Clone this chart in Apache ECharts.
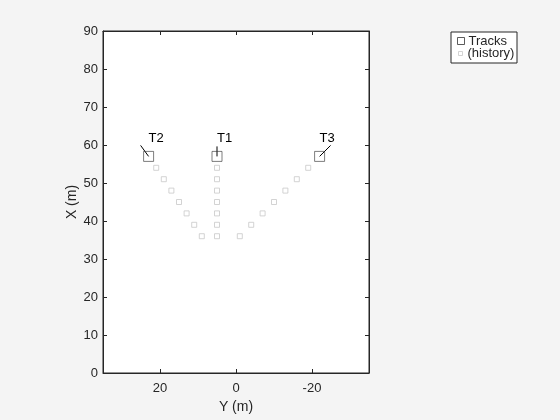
<!DOCTYPE html>
<html>
<head>
<meta charset="utf-8">
<script src="https://cdn.jsdelivr.net/npm/echarts@6/dist/echarts.min.js"></script>
<style>
html,body{margin:0;padding:0;background:#f4f4f4;}
#c{width:560px;height:420px;}
</style>
</head>
<body>
<div id="c"></div>
<script>
// ---- data ----
const trackNames = ['T1', 'T2', 'T3'];
const trackY = [5, 23, -22];
const trackX = [57, 57, 57];
const histX = [36, 39, 42, 45, 48, 51, 54];
const histY_T1 = [5, 5, 5, 5, 5, 5, 5];
const histY_T2 = [9, 11, 13, 15, 17, 19, 21];
const histY_T3 = [-1, -4, -7, -10, -13, -16, -19];
const yTicks = [20, 0, -20];
const xTickStep = 10;

// ---- build ----
const histData = [];
[histY_T1, histY_T2, histY_T3].forEach(function (ys) {
  ys.forEach(function (y, i) { histData.push([y, histX[i]]); });
});
const trackData = trackNames.map(function (n, i) { return [trackY[i], trackX[i], n]; });

// label leader styles (pixel offsets from track marker)
const leader = {
  T1: [0, -10],
  T2: [-8, -11],
  T3: [11, -11]
};

const FONT = '"Liberation Sans", Arial, Helvetica, sans-serif';
const AX = '#262626';

const chart = echarts.init(document.getElementById('c'), null, {renderer: 'canvas'});
chart.setOption({
  backgroundColor: '#f4f4f4',
  animation: false,
  textStyle: {fontFamily: FONT},
  grid: {left: 103, top: 31, width: 266, height: 342, show: true, backgroundColor: '#ffffff', borderColor: AX, borderWidth: 1},
  xAxis: [{
    type: 'value', min: -35, max: 35, inverse: true,
    name: 'Y (m)', nameLocation: 'middle', nameGap: 23,
    nameTextStyle: {fontSize: 14, color: AX, fontFamily: FONT},
    axisLine: {show: true, onZero: false, lineStyle: {color: AX, width: 1}},
    axisTick: {show: true, inside: true, length: 4, customValues: yTicks, lineStyle: {color: AX}},
    axisLabel: {customValues: yTicks, fontSize: 13, color: AX, margin: 9, fontFamily: FONT},
    splitLine: {show: false}
  }, {
    type: 'value', min: -35, max: 35, inverse: true, position: 'top',
    axisLine: {show: true, onZero: false, lineStyle: {color: AX, width: 1}},
    axisTick: {show: true, inside: true, length: 4, customValues: yTicks, lineStyle: {color: AX}},
    axisLabel: {show: false},
    splitLine: {show: false}
  }],
  yAxis: [{
    type: 'value', min: 0, max: 90, interval: xTickStep,
    name: 'X (m)', nameLocation: 'middle', nameGap: 24, nameRotate: 90,
    nameTextStyle: {fontSize: 14, color: AX, fontFamily: FONT},
    axisLine: {show: true, onZero: false, lineStyle: {color: AX, width: 1}},
    axisTick: {show: true, inside: true, length: 4, lineStyle: {color: AX}},
    axisLabel: {fontSize: 13, color: AX, margin: 5, fontFamily: FONT},
    splitLine: {show: false}
  }, {
    type: 'value', min: 0, max: 90, interval: xTickStep, position: 'right',
    axisLine: {show: true, onZero: false, lineStyle: {color: AX, width: 1}},
    axisTick: {show: true, inside: true, length: 4, lineStyle: {color: AX}},
    axisLabel: {show: false},
    splitLine: {show: false}
  }],
  legend: [{
    left: 457, top: 34.5, padding: 0, orient: 'vertical', itemWidth: 7, itemHeight: 7, itemGap: 2,
    textStyle: {fontSize: 13, color: AX, fontFamily: FONT, padding: [0, 0, 0, -1]},
    data: [{name: 'Tracks', icon: 'rect', itemStyle: {color: 'rgba(0,0,0,0)', borderColor: '#333', borderWidth: 1}}]
  }, {
    left: 458, top: 47, padding: 0, orient: 'vertical', itemWidth: 4, itemHeight: 4,
    textStyle: {fontSize: 13, color: AX, fontFamily: FONT, padding: [0, 0, 0, 0]},
    data: [{name: '(history)', icon: 'rect', itemStyle: {color: 'rgba(0,0,0,0)', borderColor: '#c8c8c8', borderWidth: 1}}]
  }],
  graphic: [{
    type: 'rect', left: 450.5, top: 31.5, z: -1,
    shape: {width: 66, height: 31},
    style: {fill: '#ffffff', stroke: AX, lineWidth: 1}
  }],
  series: [{
    name: '(history)', type: 'scatter', symbol: 'rect', symbolSize: 5,
    data: histData,
    itemStyle: {color: 'rgba(0,0,0,0)', borderColor: '#c8c8c8', borderWidth: 1}
  }, {
    name: 'Tracks', type: 'scatter', symbol: 'rect', symbolSize: 10,
    data: trackData,
    itemStyle: {color: 'rgba(0,0,0,0)', borderColor: '#333333', borderWidth: 0.8}
  }, {
    name: 'labels', type: 'custom',
    data: trackData,
    renderItem: function (params, api) {
      const p = api.coord([api.value(0), api.value(1)]);
      const name = trackNames[params.dataIndex];
      const off = leader[name];
      return {
        type: 'group',
        children: [{
          type: 'line',
          shape: {x1: p[0], y1: p[1], x2: p[0] + off[0], y2: p[1] + off[1]},
          style: {stroke: '#000', lineWidth: 1}
        }, {
          type: 'text',
          x: p[0], y: p[1] - 18,
          style: {text: name, fontSize: 13, fill: '#000', fontFamily: FONT, align: 'left', verticalAlign: 'middle'}
        }]
      };
    }
  }]
});
</script>
</body>
</html>
